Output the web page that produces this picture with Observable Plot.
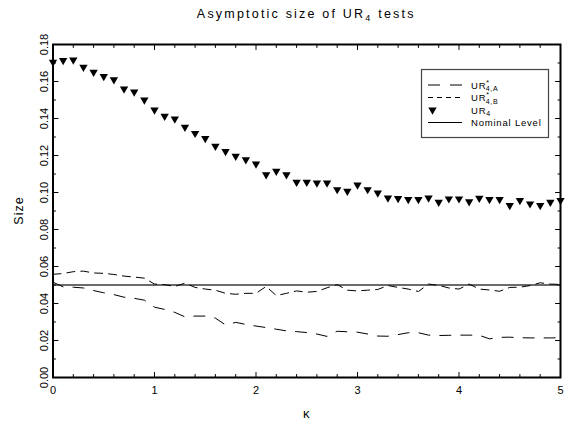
<!DOCTYPE html>
<html><head><meta charset="utf-8">
<script src="https://cdn.jsdelivr.net/npm/d3@7"></script>
<script src="https://cdn.jsdelivr.net/npm/@observablehq/plot@0.6"></script>
<style>
body{margin:0;background:#fff;}
svg text{font-family:"Liberation Sans",Helvetica,Arial,sans-serif;}
</style></head><body><div id="chart"></div>
<script>
// κ grid
const kappa = [0,0.1,0.2,0.3,0.4,0.5,0.6,0.7,0.8,0.9,1.0,1.1,1.2,1.3,1.4,1.5,1.6,1.7,1.8,1.9,2.0,2.1,2.2,2.3,2.4,2.5,2.6,2.7,2.8,2.9,3.0,3.1,3.2,3.3,3.4,3.5,3.6,3.7,3.8,3.9,4.0,4.1,4.2,4.3,4.4,4.5,4.6,4.7,4.8,4.9,5.0];
// UR4 (triangles)
const ur4 = [0.1704,0.1714,0.1717,0.1677,0.1650,0.1627,0.1610,0.1560,0.1544,0.1500,0.1447,0.1413,0.1398,0.1353,0.1320,0.1292,0.1250,0.1222,0.1196,0.1177,0.1155,0.1096,0.1115,0.1096,0.1056,0.1056,0.1052,0.1052,0.1016,0.1007,0.1041,0.1016,0.0998,0.0971,0.0968,0.0962,0.0962,0.0971,0.0948,0.0966,0.0966,0.0951,0.0969,0.0962,0.0962,0.0930,0.0957,0.0939,0.0930,0.0948,0.0957];
// UR*4,A (long dashes)
const urA = [0.0515,0.0490,0.0488,0.0484,0.0470,0.0458,0.0448,0.0434,0.0428,0.0418,0.0380,0.0368,0.0352,0.0328,0.0332,0.0332,0.0321,0.0284,0.0298,0.0287,0.0278,0.0270,0.0261,0.0252,0.0248,0.0243,0.0235,0.0222,0.0250,0.0247,0.0245,0.0235,0.0224,0.0223,0.0232,0.0242,0.0242,0.0229,0.0227,0.0228,0.0229,0.0229,0.0228,0.0209,0.0217,0.0218,0.0215,0.0214,0.0214,0.0214,0.0215];
// UR*4,B (short dashes)
const urB = [0.0558,0.0562,0.0572,0.0575,0.0565,0.0563,0.0557,0.0548,0.0543,0.0537,0.0505,0.0502,0.0492,0.0510,0.0487,0.0478,0.0472,0.0455,0.0450,0.0455,0.0455,0.0492,0.0443,0.0455,0.0468,0.0461,0.0465,0.0485,0.0502,0.0472,0.0468,0.0472,0.0476,0.0497,0.0487,0.0478,0.0465,0.0505,0.0498,0.0484,0.0478,0.0505,0.0478,0.0473,0.0466,0.0487,0.0488,0.0497,0.0512,0.0505,0.0503];
const nominal = [0.05];
// ticks
const xMajor = [0,1,2,3,4,5];
const xMinor = [0.2,0.4,0.6,0.8,1.2,1.4,1.6,1.8,2.2,2.4,2.6,2.8,3.2,3.4,3.6,3.8,4.2,4.4,4.6,4.8];
const yMajor = [0,0.02,0.04,0.06,0.08,0.10,0.12,0.14,0.16,0.18];
const yMinor = [0.01,0.03,0.05,0.07,0.09,0.11,0.13,0.15,0.17];
// texts
const titleParts = ["Asymptotic size of UR", "4", " tests"];
const yLabel = "Size";
const xLabel = "κ";
const legendItems = [
  {base:"UR", sup:"*", sub:"4,A", kind:"A"},
  {base:"UR", sup:"*", sub:"4,B", kind:"B"},
  {base:"UR", sup:"", sub:"4", kind:"U"},
  {base:"Nominal Level", sup:"", sub:"", kind:"N"}
];

const table = kappa.map((k,i)=>({k, a:urA[i], b:urB[i], u:ur4[i]}));
const W = 569, H = 427;
const mL = 52.5, mR = 9, mT = 44, mB = 50;
const xDom = [0,5], yDom = [0,0.18];

const stick = {draw(ctx, l) { ctx.moveTo(0, 0); ctx.lineTo(0, -l); }};
const ticks = (vals, side, len) => {
  const o = {shape: stick, anchor: "start", length: len, stroke: "#000", strokeWidth: 1};
  if (side === "bottom") return Plot.vector(vals, {...o, x: d => d, y: () => yDom[0], rotate: 0});
  if (side === "top") return Plot.vector(vals, {...o, x: d => d, y: () => yDom[1], rotate: 180});
  if (side === "left") return Plot.vector(vals, {...o, y: d => d, x: () => xDom[0], rotate: 90});
  return Plot.vector(vals, {...o, y: d => d, x: () => xDom[1], rotate: -90});
};

const plot = Plot.plot({
  width: W, height: H,
  marginLeft: mL, marginRight: mR, marginTop: mT, marginBottom: mB,
  style: {background:"#fff", color:"#000", fontSize:"11px", fontFamily:"Liberation Sans, Arial, sans-serif", overflow:"visible"},
  x: {domain: xDom},
  y: {domain: yDom},
  marks: [
    Plot.ruleY(nominal, {stroke:"#3a3a3a", strokeWidth:1.4}),
    Plot.line(table, {x:"k", y:"a", stroke:"#000", strokeWidth:1, strokeDasharray:"11,10"}),
    Plot.line(table, {x:"k", y:"b", stroke:"#000", strokeWidth:1, strokeDasharray:"8,6"}),
    Plot.dot(table, {x:"k", y:"u", symbol:"triangle", rotate:180, r:3.1, fill:"#000", stroke:"none"}),
    ticks(xMajor, "bottom", 5), ticks(xMinor, "bottom", 3),
    ticks(xMajor, "top", 5), ticks(xMinor, "top", 3),
    ticks(yMajor, "left", 5), ticks(yMinor, "left", 2.5),
    ticks(yMajor, "right", 5), ticks(yMinor, "right", 2.5),
    Plot.axisX(xMajor, {anchor:"bottom", tickSize:0, tickPadding:9, tickFormat:d=>String(d), label:null, fontSize:11}),
    Plot.axisY(yMajor, {anchor:"left", tickSize:0, tickPadding:5.5, tickRotate:-90, tickFormat:d3.format(".2f"), label:null, fontSize:11}),
    Plot.frame({stroke:"#000", strokeWidth:2})
  ]
});
document.getElementById("chart").appendChild(plot);

const svg = d3.select(plot);
const cx = (mL + (W - mR)) / 2;
const font = "Liberation Sans, Arial, sans-serif";

// title
const t = svg.append("text").attr("x", cx).attr("y", 18).attr("text-anchor","middle")
  .attr("font-family", font).attr("font-size", 12.5).attr("letter-spacing", 2.2).attr("fill","#000");
t.append("tspan").text(titleParts[0]);
t.append("tspan").attr("font-size", 9).attr("dy", 3).text(titleParts[1]);
t.append("tspan").attr("dy", -3).text(titleParts[2]);

// y label
svg.append("text").attr("transform", `translate(19,${(mT + H - mB)/2}) rotate(-90)`)
  .attr("text-anchor","middle").attr("dy","0.35em").attr("font-family", font)
  .attr("font-size", 12.5).attr("letter-spacing", 1).attr("fill","#000").text(yLabel);

// x label
svg.append("text").attr("x", cx).attr("y", 418).attr("text-anchor","middle")
  .attr("font-family", font).attr("font-size", 13).attr("fill","#000").text(xLabel);

// legend
const lg = svg.append("g").attr("text-anchor", "start");
lg.append("rect").attr("x", 421.5).attr("y", 69.5).attr("width", 127).attr("height", 68)
  .attr("fill","#fff").attr("stroke","#444").attr("stroke-width", 1.2);
const rowY = [85, 97.5, 110, 122.5];
legendItems.forEach((it, i) => {
  const y = rowY[i];
  if (it.kind === "A") {
    lg.append("line").attr("x1",428).attr("x2",462).attr("y1",y).attr("y2",y).attr("stroke","#000").attr("stroke-dasharray","12,10");
  } else if (it.kind === "B") {
    lg.append("line").attr("x1",428).attr("x2",462).attr("y1",y).attr("y2",y).attr("stroke","#000").attr("stroke-dasharray","5,4");
  } else if (it.kind === "U") {
    lg.append("path").attr("d", d3.symbol(d3.symbolTriangle, 30)()).attr("transform", `translate(432.5,${y}) rotate(180)`).attr("fill","#000");
  } else {
    lg.append("line").attr("x1",428).attr("x2",462).attr("y1",y).attr("y2",y).attr("stroke","#000");
  }
  const tx = lg.append("text").attr("x", 471).attr("y", y + 3.5).attr("text-anchor","start").attr("font-family", font)
    .attr("font-size", 9.5).attr("letter-spacing", 0.8).attr("fill","#000");
  tx.append("tspan").text(it.base);
  if (it.sup) {
    tx.append("tspan").attr("font-size", 7).attr("dy", -4).text(it.sup);
    tx.append("tspan").attr("font-size", 7).attr("dx", -4.2).attr("dy", 6.5).text(it.sub);
  } else if (it.sub) {
    tx.append("tspan").attr("font-size", 7).attr("dy", 2.5).text(it.sub);
  }
});
</script></body></html>
